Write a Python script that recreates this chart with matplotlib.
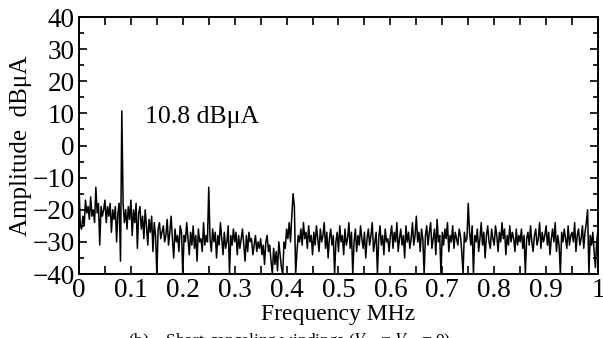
import numpy as np
import matplotlib
matplotlib.use("Agg")
import matplotlib.pyplot as plt
from matplotlib.ticker import MultipleLocator

plt.rcParams['font.family'] = ['Liberation Serif', 'DejaVu Serif']
plt.rcParams['mathtext.fontset'] = 'stix'

# Frequency step of the spectrum (MHz)
freq_step = 0.0025
amplitude = [
    -12, -25, -26, -22, -25, -17, -21, -19, -23, -16, -22, -20, -24, -13, -21, -18, -31, -19, -22, -20,
    -17, -24, -19, -22, -18, -27, -20, -23, -19, -30, -21, -18, -36, 10.8, -18, -24, -20, -26, -19, -23,
    -17, -28, -20, -24, -18, -32, -21, -19, -26, -22, -29, -20, -25, -31, -23, -27, -22, -33, -24, -28,
    -40, -26, -24, -29, -27, -25, -30, -28, -23, -31, -27, -22, -29, -35, -26, -30, -28, -33, -25, -27,
    -40, -28, -30, -24, -29, -34, -27, -31, -25, -32, -28, -36, -26, -30, -29, -33, -24, -31, -28, -30,
    -13, -29, -33, -26, -30, -27, -35, -28, -31, -24, -29, -34, -27, -32, -30, -25, -40, -28, -31, -26,
    -30, -27, -34, -28, -32, -29, -26, -31, -36, -28, -33, -27, -30, -29, -34, -31, -28, -33, -30, -32,
    -29, -34, -31, -37, -30, -28, -33, -31, -36, -40, -32, -37, -33, -39, -30, -34, -38, -40, -30, -32,
    -26, -29, -24, -30, -22, -15, -19, -40, -33, -28, -30, -26, -31, -24, -29, -27, -32, -25, -30, -28,
    -34, -27, -31, -25, -29, -33, -26, -30, -28, -24, -32, -27, -35, -29, -26, -31, -28, -40, -30, -27,
    -33, -25, -30, -28, -34, -26, -31, -29, -24, -32, -27, -40, -30, -26, -33, -28, -31, -25, -29, -32,
    -27, -35, -29, -26, -31, -28, -24, -33, -30, -27, -40, -29, -25, -31, -28, -34, -26, -30, -29, -33,
    -28, -25, -32, -27, -30, -24, -33, -29, -26, -31, -28, -35, -25, -30, -27, -32, -29, -24, -31, -28,
    -22, -30, -27, -33, -26, -29, -40, -28, -25, -31, -27, -24, -32, -29, -26, -34, -23, -30, -28, -40,
    -27, -31, -26, -29, -24, -33, -28, -30, -25, -32, -27, -29, -31, -26, -28, -33, -40, -27, -30, -29,
    -18, -27, -31, -25, -40, -28, -30, -26, -33, -29, -24, -31, -27, -35, -28, -25, -30, -32, -26, -29,
    -31, -25, -28, -33, -27, -30, -24, -29, -26, -34, -28, -31, -25, -30, -27, -29, -33, -26, -31, -28,
    -30, -26, -32, -28, -40, -29, -27, -31, -25, -30, -33, -28, -26, -31, -29, -24, -32, -27, -30, -28,
    -25, -31, -27, -34, -29, -26, -30, -24, -33, -28, -31, -40, -27, -30, -26, -29, -32, -25, -31, -28,
    -27, -30, -24, -33, -28, -26, -31, -29, -25, -32, -27, -24, -20, -40, -28, -31, -27, -33, -38, -30,
    -26,
]
frequency = np.arange(len(amplitude)) * freq_step

x_ticks = [0, 0.1, 0.2, 0.3, 0.4, 0.5, 0.6, 0.7, 0.8, 0.9, 1.0]
x_ticklabels = ['0', '0.1', '0.2', '0.3', '0.4', '0.5', '0.6', '0.7', '0.8', '0.9', '1']
y_ticks = [-40, -30, -20, -10, 0, 10, 20, 30, 40]

fig = plt.figure(figsize=(6.03, 3.38), dpi=100)
ax = fig.add_axes([0.131, 0.1893, 0.8607, 0.7604])
ax.plot(frequency, amplitude, color='black', lw=1.1, clip_on=True)
ax.set_xlim(0, 1)
ax.set_ylim(-40, 40)
ax.set_xticks(x_ticks)
ax.set_xticklabels(x_ticklabels)
ax.set_yticks(y_ticks)
ax.xaxis.set_minor_locator(MultipleLocator(0.05))
ax.yaxis.set_minor_locator(MultipleLocator(5))
ax.tick_params(which='major', direction='in', length=6, width=1.2, top=True, right=True,
               labelsize=19.5, pad=3)
ax.tick_params(axis='x', which='minor', direction='in', length=6, width=1.2, top=True)
ax.tick_params(axis='y', which='minor', direction='in', length=3.5, width=1.2, right=True)
for s in ax.spines.values():
    s.set_linewidth(1.4)

ax.set_xlabel('Frequency MHz', fontsize=17, labelpad=0.5)
ax.set_ylabel('Amplitude  dB\u03bcA', fontsize=18, labelpad=0)
ax.text(0.128, 8.8, '10.8 dB\u03bcA', fontsize=18.5, va='center', ha='left')

fig.text(0.212, 0.022, r'(b)    Short-canceling windings ($V_{\rm s1}$ = $V_{\rm s2}$ = 0)',
         fontsize=12.5, va='top', ha='left')

fig.savefig('out.png', dpi=100)
